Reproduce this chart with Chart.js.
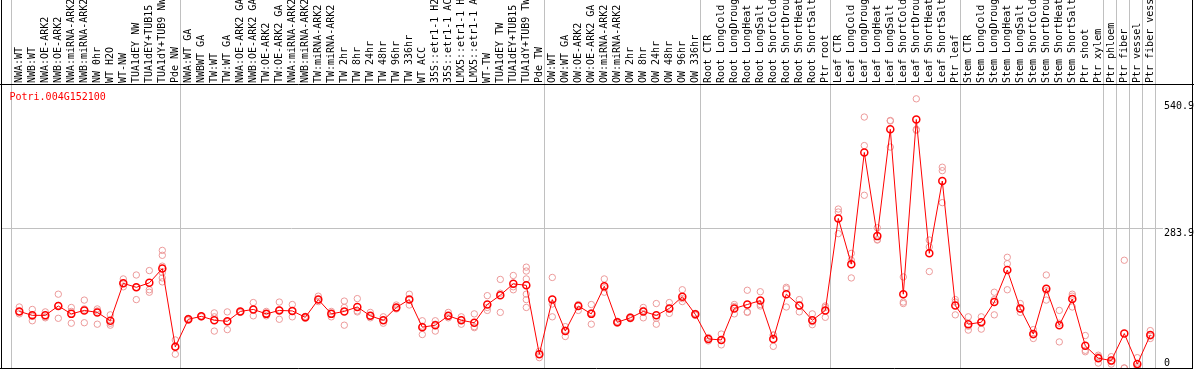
<!DOCTYPE html>
<html>
<head>
<meta charset="utf-8">
<script src="https://cdn.jsdelivr.net/npm/chart.js@4/dist/chart.umd.min.js"></script>
<style>
  html, body { margin: 0; padding: 0; background: #fff; }
  canvas { display: block; }
</style>
</head>
<body>
<canvas id="myChart" width="1194" height="370"></canvas>
<script>
const geneName = "Potri.004G152100";

const labels = [
  "NWA:WT", "NWB:WT", "NWA:OE-ARK2", "NWB:OE-ARK2", "NWA:miRNA-ARK2", "NWB:miRNA-ARK2",
  "NW 0hr", "WT H2O", "WT-NW", "TUA1dEY NW", "TUA1dEY+TUB15", "TUA1dY+TUB9 NW", "Pde NW",
  "NWA:WT GA", "NWBWT GA", "TW:WT", "TW:WT GA", "NWA:OE-ARK2 GA", "NWB:OE-ARK2 GA",
  "TW:OE-ARK2", "TW:OE-ARK2 GA", "NWA:miRNA-ARK2", "NWB:miRNA-ARK2", "TW:miRNA-ARK2",
  "TW:miRNA-ARK2", "TW 2hr", "TW 8hr", "TW 24hr", "TW 48hr", "TW 96hr", "TW 336hr", "WT ACC",
  "35S::etr1-1 H2O", "35S::etr1-1 ACC", "LMX5::etr1-1 H2O", "LMX5::etr1-1 ACC", "WT-TW",
  "TUA1dEY TW", "TUA1dEY+TUB15", "TUA1dY+TUB9 TW", "Pde TW",
  "OW:WT", "OW:WT GA", "OW:OE-ARK2", "OW:OE-ARK2 GA", "OW:miRNA-ARK2", "OW:miRNA-ARK2",
  "OW 2hr", "OW 8hr", "OW 24hr", "OW 48hr", "OW 96hr", "OW 336hr",
  "Root CTR", "Root LongCold", "Root LongDrought", "Root LongHeat", "Root LongSalt",
  "Root ShortCold", "Root ShortDrought", "Root ShortHeat", "Root ShortSalt", "Ptr root",
  "Leaf CTR", "Leaf LongCold", "Leaf LongDrought", "Leaf LongHeat", "Leaf LongSalt",
  "Leaf ShortCold", "Leaf ShortDrought", "Leaf ShortHeat", "Leaf ShortSalt", "Ptr leaf",
  "Stem CTR", "Stem LongCold", "Stem LongDrought", "Stem LongHeat", "Stem LongSalt",
  "Stem ShortCold", "Stem ShortDrought", "Stem ShortHeat", "Stem ShortSalt", "Ptr shoot",
  "Ptr xylem", "Ptr phloem", "Ptr fiber", "Ptr vessel", "Ptr fiber vessel"
];

// mean expression per sample
const means = [
  115, 107, 107, 126, 110, 117, 113, 96, 172, 164, 173, 202, 43, 99, 105, 97, 95, 115, 119, 110, 117, 116,
  103, 139, 110, 115, 124, 106, 97, 123, 139, 83, 87, 106, 97, 92, 129, 148, 171, 168, 28, 139, 75, 126, 110,
  166, 93, 102, 115, 107, 121, 145, 109, 59, 57, 121, 129, 137, 59, 150, 127, 97, 117, 304, 211, 438, 268, 485,
  150, 505, 233, 380, 127, 89, 93, 134, 199, 121, 69, 161, 87, 140, 45, 20, 15, 70, 8, 67
];

// individual replicates per sample
const reps = [
  [124, 115, 110], [119, 105, 96], [114, 104, 102], [150, 127, 101], [123, 115, 91],
  [138, 120, 92], [120, 116, 89], [108, 91, 87], [181, 172, 165], [189, 164, 139],
  [198, 159, 154], [239, 229, 207, 194, 183, 175], [57, 43, 28], [101, 99, 97], [106, 105, 104],
  [112, 104, 75], [114, 94, 78], [115, 114, 113], [133, 119, 106], [115, 110, 106],
  [134, 118, 99], [129, 116, 104], [105, 103, 101], [146, 139, 135], [115, 110, 104],
  [136, 123, 87], [141, 116, 114], [113, 106, 102], [104, 97, 91], [128, 123, 120],
  [150, 139, 128], [96, 85, 68], [96, 89, 75], [113, 106, 102], [104, 98, 89],
  [110, 84, 82], [147, 123, 117], [180, 152, 113], [188, 165, 159], [205, 197, 181, 150, 139, 123],
  [34, 28, 21], [184, 130, 104], [84, 77, 64], [129, 126, 117], [129, 112, 89],
  [181, 163, 154], [95, 93, 91], [104, 102, 100], [123, 117, 102], [131, 101, 89],
  [133, 120, 111], [159, 141, 135], [111, 109, 107], [62, 59, 55], [69, 56, 47],
  [129, 125, 110], [158, 114, 113], [155, 129, 126], [67, 67, 44], [164, 161, 124],
  [139, 127, 114], [110, 94, 88], [126, 123, 103], [323, 317, 273], [233, 219, 183],
  [510, 452, 351], [285, 261, 260], [503, 502, 449], [185, 134, 131], [547, 485, 483],
  [260, 246, 196], [408, 401, 336], [139, 134, 108], [104, 85, 77], [104, 94, 79],
  [154, 139, 108], [225, 212, 159], [131, 120, 113], [78, 67, 60], [189, 157, 138],
  [117, 91, 53], [150, 146, 124], [66, 36, 33], [26, 23, 10], [23, 13, 8],
  [219, 0, 0], [21, 3, 0], [76, 65, 60]
];

const groupStarts = [0, 13, 41, 53, 63, 73, 84, 85, 86, 87];
const yTicks = [0, 283.9, 540.9];

const FONT = "'DejaVu Sans Mono', monospace";

const meanPoints = means.map((v, i) => ({ x: i, y: v }));
const repPoints = [];
reps.forEach((vals, i) => vals.forEach((v) => repPoints.push({ x: i, y: v })));

const decorations = {
  id: 'decorations',
  beforeDraw(chart) {
    const { ctx, chartArea, scales: { x } } = chart;
    ctx.save();
    ctx.strokeStyle = '#c0c0c0';
    ctx.lineWidth = 1;
    const pos = groupStarts.map((g) => g - 0.64).concat([labels.length - 1 + 0.36]);
    pos.forEach((v) => {
      const px = Math.round(x.getPixelForValue(v)) + 0.5;
      ctx.beginPath();
      ctx.moveTo(px, 0);
      ctx.lineTo(px, chartArea.bottom);
      ctx.stroke();
    });
    ctx.restore();
  },
  afterDraw(chart) {
    const { ctx, chartArea } = chart;
    ctx.save();
    ctx.strokeStyle = '#000';
    ctx.lineWidth = 1;
    ctx.beginPath();
    ctx.moveTo(0, chartArea.top - 0.5);
    ctx.lineTo(chart.width, chartArea.top - 0.5);
    ctx.moveTo(1.5, 0);
    ctx.lineTo(1.5, chartArea.bottom + 1);
    ctx.moveTo(0, chartArea.bottom + 0.5);
    ctx.lineTo(1193, chartArea.bottom + 0.5);
    ctx.moveTo(1192.5, 0);
    ctx.lineTo(1192.5, chartArea.bottom + 1);
    ctx.stroke();

    ctx.fillStyle = '#ff0000';
    ctx.font = '10px ' + FONT;
    ctx.textBaseline = 'middle';
    ctx.textAlign = 'left';
    ctx.fillText(geneName, chartArea.left + 8.5, chartArea.top + 12);
    ctx.restore();
  }
};

new Chart(document.getElementById('myChart').getContext('2d'), {
  type: 'scatter',
  data: {
    datasets: [
      {
        type: 'line',
        data: meanPoints,
        order: 0,
        borderColor: '#ff0000',
        borderWidth: 1,
        tension: 0,
        pointRadius: 3.5,
        pointBorderWidth: 1.5,
        pointBorderColor: '#ff0000',
        pointBackgroundColor: 'rgba(0,0,0,0)',
        fill: false
      },
      {
        type: 'scatter',
        data: repPoints,
        order: 1,
        pointRadius: 3.2,
        pointBorderWidth: 1,
        pointBorderColor: '#ec9a9a',
        pointBackgroundColor: 'rgba(0,0,0,0)'
      }
    ]
  },
  options: {
    responsive: false,
    animation: false,
    devicePixelRatio: 1,
    layout: { autoPadding: false, padding: { left: 1, right: 0, top: 0, bottom: 2 } },
    plugins: {
      legend: { display: false },
      tooltip: { enabled: false }
    },
    events: [],
    scales: {
      x: {
        type: 'linear',
        position: 'top',
        min: -1.408,
        max: 87.977,
        afterBuildTicks: (s) => { s.ticks = labels.map((_, i) => ({ value: i })); },
        afterFit: (s) => { s.height = 85; s.paddingLeft = 0; s.paddingRight = 0; },
        grid: { display: false, drawTicks: false },
        border: { display: false },
        ticks: {
          autoSkip: false,
          maxRotation: 90,
          minRotation: 90,
          padding: 2,
          labelOffset: 12,
          color: '#000',
          font: { family: FONT, size: 10 },
          callback: (v) => labels[v] ?? ''
        }
      },
      y: {
        position: 'right',
        min: 0,
        max: 575.1,
        afterBuildTicks: (s) => { s.ticks = yTicks.map((v) => ({ value: v })); },
        afterFit: (s) => { s.width = 31; s.paddingTop = 0; s.paddingBottom = 0; },
        grid: {
          drawTicks: false,
          lineWidth: 1,
          color: (c) => (c.tick && c.tick.value === 283.9 ? '#c0c0c0' : 'rgba(0,0,0,0)')
        },
        border: { display: false },
        ticks: {
          padding: 1,
          color: '#000',
          font: { family: FONT, size: 10, lineHeight: 1 },
          callback: (v) => (v === 0 ? ['0', ''] : ['', v.toFixed(1)])
        }
      }
    }
  },
  plugins: [decorations]
});
</script>
</body>
</html>
